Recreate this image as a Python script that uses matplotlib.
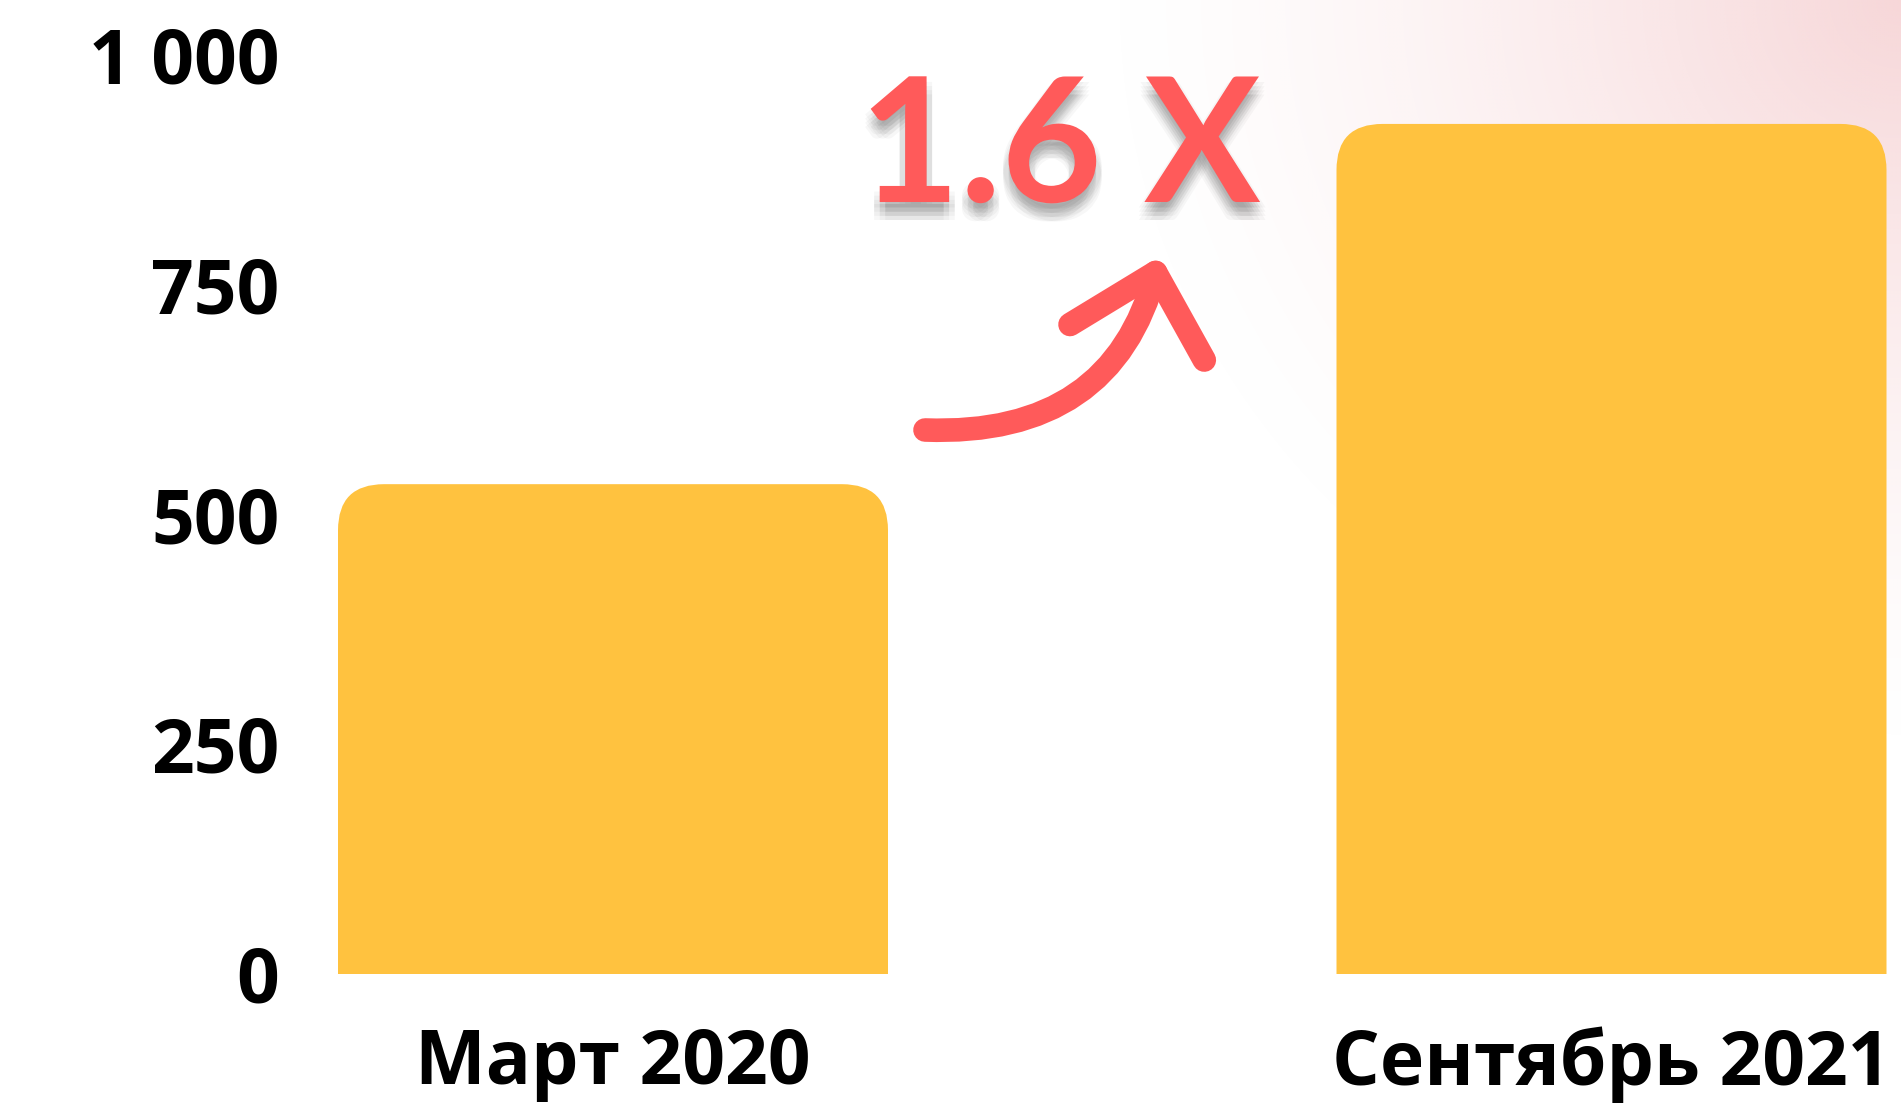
import numpy as np
import matplotlib
matplotlib.use("Agg")
import matplotlib.pyplot as plt
from matplotlib.patches import FancyBboxPatch
import matplotlib.patheffects as pe

# data
categories = ["Март 2020", "Сентябрь 2021"]
values = [533, 925]
y_ticks = [0, 250, 500, 750, 1000]
y_tick_labels = ["0", "250", "500", "750", "1 000"]
growth_label = "1.6 X"

BAR_COLOR = "#FFC23F"
RED = "#FF5A5A"
FIG_W, FIG_H, DPI = 1901, 1107, 100


def main():
    plt.rcParams['font.family'] = ['Open Sans', 'DejaVu Sans']
    fig = plt.figure(figsize=(FIG_W / DPI, FIG_H / DPI), dpi=DPI)

    # faint pink glow in the top right corner
    bg = fig.add_axes([0, 0, 1, 1], zorder=-10)
    yy, xx = np.mgrid[0:FIG_H:4, 0:FIG_W:4]
    d = np.sqrt(((FIG_W - xx) / 800.0) ** 2 + (yy / 750.0) ** 2)
    alpha = np.clip(1 - d, 0, 1) ** 1.4 * 0.8
    img = np.zeros(xx.shape + (4,))
    img[..., 0] = 245 / 255
    img[..., 1] = 205 / 255
    img[..., 2] = 207 / 255
    img[..., 3] = alpha
    bg.imshow(img, extent=[0, 1, 0, 1], aspect='auto', interpolation='bilinear')
    bg.axis('off')

    # main axes, laid out in pixels
    ax_left, ax_right = 300, FIG_W
    ax_bottom_px = 974  # from top
    ax = fig.add_axes([ax_left / FIG_W, (FIG_H - ax_bottom_px) / FIG_H,
                       (ax_right - ax_left) / FIG_W, ax_bottom_px / FIG_H])
    ax.patch.set_alpha(0)

    centre0, step = 613, 998.5
    ax.set_xlim((ax_left - centre0) / step, (ax_right - centre0) / step)
    px_per_unit_y = 919 / 1000
    ax.set_ylim(0, ax_bottom_px / px_per_unit_y)

    width = 550 / step
    radius_px = 46
    rx = radius_px / step
    ry = radius_px / px_per_unit_y
    for i, v in enumerate(values):
        box = FancyBboxPatch((i - width / 2, -2 * ry), width, v + 2 * ry,
                             boxstyle="round,pad=0,rounding_size={}".format(rx),
                             mutation_aspect=ry / rx,
                             facecolor=BAR_COLOR, edgecolor='none')
        ax.add_patch(box)

    for s in ax.spines.values():
        s.set_visible(False)
    ax.set_yticks(y_ticks)
    ax.set_yticklabels(y_tick_labels, fontsize=54, fontweight='bold')
    ax.set_xticks(range(len(categories)))
    ax.set_xticklabels(categories, fontsize=54, fontweight='bold')
    ax.tick_params(axis='y', length=0, pad=15)
    ax.tick_params(axis='x', length=0, pad=38)
    for t in ax.get_yticklabels():
        t.set_verticalalignment('center_baseline')

    # growth annotation
    shadow = [pe.SimplePatchShadow(offset=(dx, dy), shadow_rgbFace='black', alpha=0.03)
              for dx in (-4, 0, 4) for dy in (-4, -7, -10, -13)]
    fig.text(1060 / FIG_W, 1 - 202 / FIG_H, growth_label, color=RED, fontsize=125,
             fontweight='bold', family='Lato', ha='center', va='baseline',
             path_effects=shadow + [pe.Normal()])

    ax.annotate("", xy=(1160, FIG_H - 256), xycoords='figure pixels',
                xytext=(925, FIG_H - 430), textcoords='figure pixels',
                arrowprops=dict(arrowstyle='->,head_length=0.52,head_width=0.5',
                                connectionstyle='arc3,rad=0.4', color=RED, lw=17,
                                mutation_scale=100, shrinkA=0, shrinkB=0,
                                capstyle='round', joinstyle='round'))

    fig.savefig("out.png", dpi=DPI, facecolor='white')
    plt.close(fig)


if __name__ == "__main__":
    main()
